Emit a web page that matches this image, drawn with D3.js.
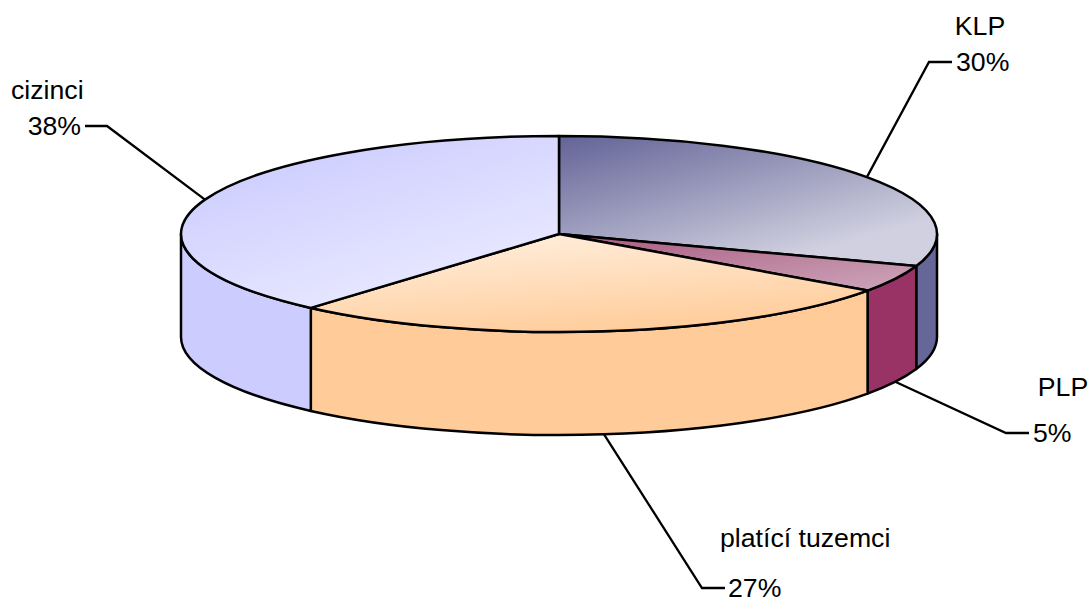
<!DOCTYPE html>
<html><head><meta charset="utf-8">
<script src="https://cdn.jsdelivr.net/npm/d3@7"></script>
<style>html,body{margin:0;padding:0;background:#fff}svg{display:block}text{font-family:"Liberation Sans",Arial,sans-serif;font-size:26.67px;fill:#000}</style>
</head><body><svg width="1091" height="597"></svg>
<script>
const categories = ["KLP","PLP","platící tuzemci","cizinci"];
const values = [30.3,4.5,26.6,38.6];
const percentLabels = ["30%","5%","27%","38%"];
const sideColors = ["#666699","#993366","#FFCC99","#CCCCFF"];
const topStart = ["#666699","#A9597F","#FFEFDF","#CCCCFF"];
const topEnd = ["#D0D0E0","#CDA8BB","#FFCC99","#ECECFF"];
const gradVec = [[0.05,0,0.72,0.85],[0,0,1,1],[0.2,0,0.6,1],[0.15,0.1,0.75,1]];
// label layout: elbow, line end, category label anchor, percent label anchor
const elbows = [[929,62],[1006,433],[702,588],[107,126]];
const lineEnds = [[952,62],[1029,433],[725,588],[85,126]];
const nameAnchors = [[980,35,"middle"],[1063,396,"middle"],[720,547,"start"],[11,99,"start"]];
const pctAnchor = [[956,71,"start"],[1033,442,"start"],[728,597,"start"],[81,135,"end"]];

const cx=559, cy=234, rx=378, ry=98, depth=103;
const svg=d3.select("svg");
const arcs=d3.pie().sort(null).value(d=>d)(values);
const px=t=>cx+rx*Math.sin(t), py=t=>cy-ry*Math.cos(t);
const ell=(t0,t1)=>{
  const large=(t1-t0)>Math.PI?1:0;
  return `A${rx},${ry} 0 ${large} 1 ${px(t1)},${py(t1)}`;
};
const defs=svg.append("defs");
arcs.forEach((a,i)=>{
  const g=defs.append("linearGradient").attr("id","g"+i)
    .attr("x1",gradVec[i][0]).attr("y1",gradVec[i][1]).attr("x2",gradVec[i][2]).attr("y2",gradVec[i][3]);
  g.append("stop").attr("offset",0).attr("stop-color",topStart[i]);
  g.append("stop").attr("offset",1).attr("stop-color",topEnd[i]);
});
const line=(pts)=>svg.append("path").attr("d",d3.line()(pts)).attr("fill","none").attr("stroke","#000").attr("stroke-width",2.3);
arcs.forEach((a,i)=>{
  const m=(a.startAngle+a.endAngle)/2;
  const front=Math.cos(m)<0;
  line([[px(m),py(m)+(front?depth:0)],elbows[i],lineEnds[i]]);
});
const vis0=Math.PI/2, vis1=3*Math.PI/2;
arcs.forEach((a,i)=>{
  const t0=Math.max(a.startAngle,vis0), t1=Math.min(a.endAngle,vis1);
  if(t1<=t0) return;
  const d=`M${px(t0)},${py(t0)}`+ell(t0,t1)+`L${px(t1)},${py(t1)+depth}`+
    `A${rx},${ry} 0 0 0 ${px(t0)},${py(t0)+depth}Z`;
  svg.append("path").attr("d",d).attr("fill",sideColors[i]).attr("stroke","#000").attr("stroke-width",2.5).attr("stroke-linejoin","round");
});
arcs.forEach((a,i)=>{
  const d=`M${cx},${cy}L${px(a.startAngle)},${py(a.startAngle)}`+ell(a.startAngle,a.endAngle)+"Z";
  svg.append("path").attr("d",d).attr("fill",`url(#g${i})`).attr("stroke","#000").attr("stroke-width",2.5).attr("stroke-linejoin","round");
});
categories.forEach((c,i)=>{
  svg.append("text").attr("x",nameAnchors[i][0]).attr("y",nameAnchors[i][1]).attr("text-anchor",nameAnchors[i][2]).text(c);
  svg.append("text").attr("x",pctAnchor[i][0]).attr("y",pctAnchor[i][1]).attr("text-anchor",pctAnchor[i][2]).text(percentLabels[i]);
});
</script></body></html>
